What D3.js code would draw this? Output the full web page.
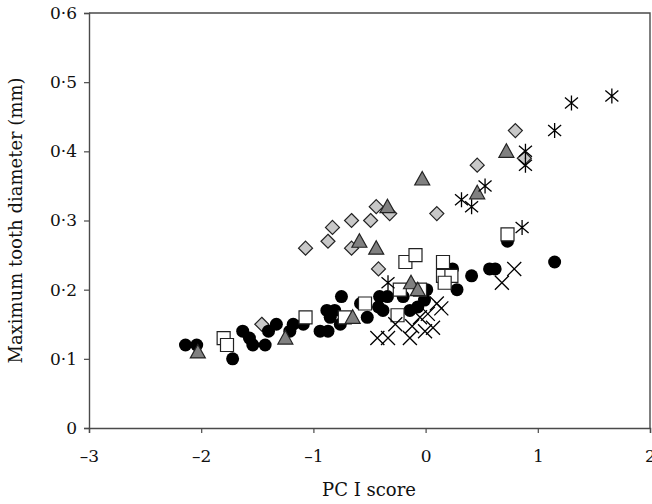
<!DOCTYPE html>
<html>
<head>
<meta charset="UTF-8">
<title>Maximum tooth diameter vs PC I score</title>
<script src="https://d3js.org/d3.v7.min.js"></script>
<style>
  body { margin: 0; background: #fff; }
  text { font-family: "DejaVu Serif", serif; fill: #111; }
</style>
</head>
<body>
<div id="chart"></div>
<script>
// x = PC I score, y = maximum tooth diameter (mm), one pair of arrays per group
var circleX = [-2.14, -2.04, -1.72, -1.63, -1.57, -1.54, -1.43, -1.40, -1.33, -1.21, -1.18, -1.09,
               -0.94, -0.87, -0.88, -0.81, -0.85, -0.75, -0.76, -0.58, -0.52, -0.42, -0.41, -0.34,
               -0.38, -0.20, -0.14, -0.07, -0.01, 0.01, 0.24, 0.28, 0.41, 0.57, 0.62, 0.73, 1.15];
var circleY = [0.12, 0.12, 0.10, 0.14, 0.13, 0.12, 0.12, 0.14, 0.15, 0.14, 0.15, 0.15,
               0.14, 0.14, 0.17, 0.17, 0.16, 0.19, 0.15, 0.18, 0.16, 0.175, 0.19, 0.19,
               0.17, 0.19, 0.17, 0.175, 0.185, 0.20, 0.23, 0.20, 0.22, 0.23, 0.23, 0.27, 0.24];

var squareX = [-1.80, -1.77, -1.07, -0.72, -0.54, -0.25, -0.23, -0.05, -0.18, -0.09, 0.155, 0.155, 0.23, 0.17, 0.73];
var squareY = [0.13, 0.12, 0.16, 0.16, 0.18, 0.163, 0.20, 0.20, 0.24, 0.25, 0.24, 0.22, 0.22, 0.21, 0.28];

var triangleX = [-2.03, -1.25, -0.65, -0.59, -0.44, -0.34, -0.03, -0.13, -0.07, 0.46, 0.72];
var triangleY = [0.11, 0.13, 0.16, 0.27, 0.26, 0.32, 0.36, 0.21, 0.20, 0.34, 0.40];

var diamondX = [-1.46, -1.07, -0.87, -0.83, -0.66, -0.49, -0.66, -0.44, -0.32, -0.42, 0.10, 0.46, 0.80, 0.88];
var diamondY = [0.15, 0.26, 0.27, 0.29, 0.30, 0.30, 0.26, 0.32, 0.31, 0.23, 0.31, 0.38, 0.43, 0.39];

var crossX = [-0.43, -0.335, -0.14, -0.27, -0.12, -0.05, -0.005, 0.02, 0.066, 0.10, 0.14, 0.68, 0.79];
var crossY = [0.13, 0.13, 0.13, 0.15, 0.147, 0.16, 0.14, 0.165, 0.145, 0.18, 0.173, 0.21, 0.23];

var starX = [-0.335, 0.32, 0.41, 0.53, 0.89, 0.89, 0.86, 1.15, 1.30, 1.66];
var starY = [0.21, 0.33, 0.32, 0.35, 0.40, 0.38, 0.29, 0.43, 0.47, 0.48];

var xTicks = [-3, -2, -1, 0, 1, 2];
var yTicks = [0, 0.1, 0.2, 0.3, 0.4, 0.5, 0.6];

var W = 652, H = 504;
var plot = {x0: 89, x1: 650, y0: 13, y1: 428};

var svg = d3.select('#chart').append('svg')
    .attr('width', W)
    .attr('height', H);

var x = d3.scaleLinear().domain([-3, 2]).range([plot.x0, plot.x1]);
var y = d3.scaleLinear().domain([0, 0.6]).range([plot.y1, plot.y0]);

var axisColor = '#4a4a4a';

// frame (top + right)
svg.append('path')
   .attr('d', 'M' + plot.x0 + ',' + plot.y0 + 'H' + plot.x1 + 'V' + plot.y1)
   .attr('fill', 'none')
   .attr('stroke', axisColor)
   .attr('stroke-width', 1.4);

var fmt = d => d === 0 ? '0' : d3.format('.1f')(d).replace('.', '\u00b7');

var yAxis = svg.append('g')
   .attr('transform', 'translate(' + plot.x0 + ',0)')
   .call(d3.axisLeft(y).tickValues(yTicks).tickSize(5).tickPadding(7).tickFormat(fmt));

var xAxis = svg.append('g')
   .attr('transform', 'translate(0,' + plot.y1 + ')')
   .call(d3.axisBottom(x).tickValues(xTicks).tickSize(5).tickPadding(17)
         .tickFormat(d => d < 0 ? '\u2013' + Math.abs(d) : String(d)));

[xAxis, yAxis].forEach(function(g) {
    g.select('.domain').attr('stroke', axisColor).attr('stroke-width', 1.4);
    g.selectAll('.tick line').attr('stroke', axisColor).attr('stroke-width', 1.2);
    g.selectAll('.tick text')
     .style('font-family', '"DejaVu Serif", serif')
     .style('font-size', '17px')
     .attr('fill', '#111');
});

svg.append('text')
   .attr('x', 369)
   .attr('y', 496)
   .attr('text-anchor', 'middle')
   .style('font-size', '18px')
   .text('PC I score');

svg.append('text')
   .attr('transform', 'translate(22,' + ((plot.y0 + plot.y1) / 2) + ') rotate(-90)')
   .attr('text-anchor', 'middle')
   .style('font-size', '18px')
   .text('Maximum tooth diameter (mm)');

// marker shapes, relative to the point
var shapes = {
    square: 'M-6.5,-6.5H6.5V6.5H-6.5Z',
    triangle: 'M0,-7.5L7.5,6L-7.5,6Z',
    diamond: 'M0,-7L7,0L0,7L-7,0Z',
    cross: 'M-7,-7L7,7M-7,7L7,-7',
    star: 'M-6.5,-5.5L6.5,5.5M-6.5,5.5L6.5,-5.5M0,-7.5V7.5'
};

function pairs(xs, ys) { return xs.map((v, i) => [v, ys[i]]); }

function drawPath(data, d, fill, stroke, sw) {
    svg.append('g').selectAll('path')
       .data(data)
       .enter()
       .append('path')
       .attr('d', d)
       .attr('transform', p => 'translate(' + x(p[0]) + ',' + y(p[1]) + ')')
       .attr('fill', fill)
       .attr('stroke', stroke)
       .attr('stroke-width', sw);
}

drawPath(pairs(diamondX, diamondY), shapes.diamond, '#c8c8c8', '#222', 1.2);

svg.append('g').selectAll('circle')
   .data(pairs(circleX, circleY))
   .enter()
   .append('circle')
   .attr('cx', p => x(p[0]))
   .attr('cy', p => y(p[1]))
   .attr('r', 6.5)
   .attr('fill', '#000');

drawPath(pairs(squareX, squareY), shapes.square, '#fff', '#222', 1.2);
drawPath(pairs(triangleX, triangleY), shapes.triangle, '#808080', '#222', 1.2);
drawPath(pairs(crossX, crossY), shapes.cross, 'none', '#000', 1.3);
drawPath(pairs(starX, starY), shapes.star, 'none', '#000', 1.3);
</script>
</body>
</html>
